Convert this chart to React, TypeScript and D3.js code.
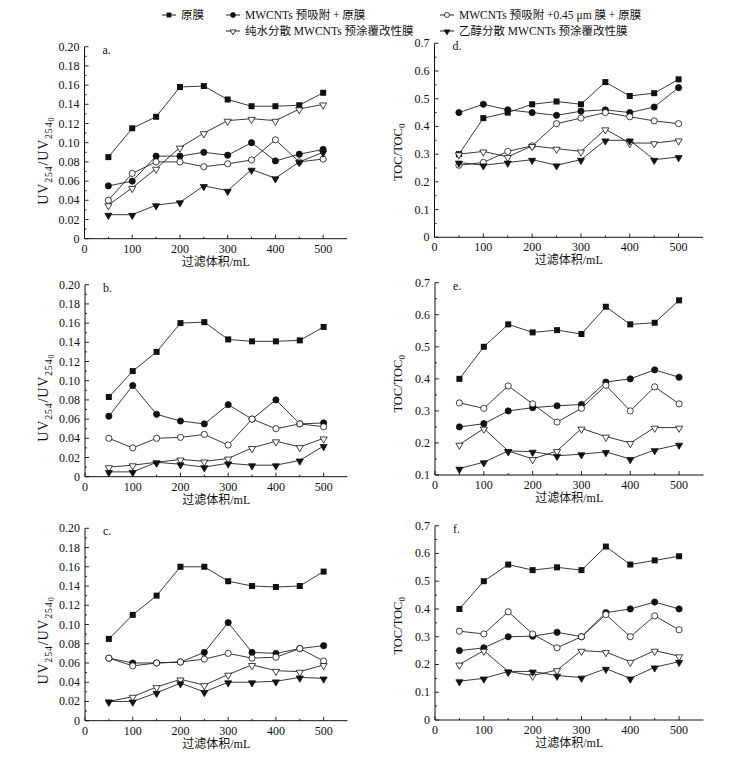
import React from 'react';
import * as d3 from 'd3';

// filtration volume (mL)
const volumes = [50, 100, 150, 200, 250, 300, 350, 400, 450, 500];

const seriesNames = [
  '原膜',
  'MWCNTs 预吸附 + 原膜',
  'MWCNTs 预吸附 +0.45 μm 膜 + 原膜',
  '纯水分散 MWCNTs 预涂覆改性膜',
  '乙醇分散 MWCNTs 预涂覆改性膜',
];
const seriesMarkers = ['square', 'circle', 'circleOpen', 'triOpen', 'tri'];

// UV254/UV254_0, panels a-c; order follows seriesNames
const uvA = [
  [0.085, 0.115, 0.127, 0.158, 0.159, 0.145, 0.138, 0.138, 0.139, 0.152],
  [0.055, 0.06, 0.086, 0.086, 0.09, 0.087, 0.1, 0.081, 0.088, 0.093],
  [0.04, 0.068, 0.08, 0.08, 0.075, 0.078, 0.082, 0.103, 0.08, 0.083],
  [0.035, 0.053, 0.073, 0.095, 0.11, 0.123, 0.125, 0.123, 0.135, 0.14],
  [0.025, 0.025, 0.035, 0.038, 0.055, 0.05, 0.072, 0.063, 0.08, 0.09],
];
const uvB = [
  [0.083, 0.11, 0.13, 0.16, 0.161, 0.143, 0.141, 0.141, 0.142, 0.156],
  [0.063, 0.095, 0.065, 0.058, 0.055, 0.075, 0.06, 0.08, 0.055, 0.056],
  [0.04, 0.03, 0.04, 0.041, 0.044, 0.033, 0.06, 0.05, 0.055, 0.052],
  [0.01, 0.012, 0.015, 0.018, 0.016, 0.019, 0.03, 0.037, 0.031, 0.04],
  [0.005, 0.005, 0.015, 0.013, 0.01, 0.014, 0.012, 0.012, 0.017, 0.032],
];
const uvC = [
  [0.085, 0.11, 0.13, 0.16, 0.16, 0.145, 0.14, 0.139, 0.14, 0.155],
  [0.065, 0.06, 0.06, 0.061, 0.071, 0.102, 0.071, 0.07, 0.075, 0.078],
  [0.065, 0.057, 0.06, 0.061, 0.064, 0.07, 0.065, 0.066, 0.075, 0.062],
  [0.02, 0.025, 0.035, 0.043, 0.037, 0.048, 0.058, 0.052, 0.051, 0.058],
  [0.02, 0.02, 0.029, 0.039, 0.03, 0.04, 0.04, 0.041, 0.045, 0.044],
];

// TOC/TOC0, panels d-f
const tocD = [
  [0.3, 0.43, 0.45, 0.48, 0.49, 0.48, 0.56, 0.51, 0.52, 0.57],
  [0.45, 0.48, 0.46, 0.45, 0.44, 0.455, 0.46, 0.45, 0.47, 0.54],
  [0.26, 0.27, 0.31, 0.33, 0.41, 0.43, 0.45, 0.435, 0.42, 0.41],
  [0.3, 0.31, 0.29, 0.33, 0.32, 0.31, 0.39, 0.34, 0.34, 0.35],
  [0.27, 0.26, 0.27, 0.28, 0.26, 0.28, 0.35, 0.35, 0.28, 0.29],
];
const tocE = [
  [0.4, 0.5, 0.57, 0.545, 0.552, 0.54, 0.625, 0.57, 0.575, 0.645],
  [0.25, 0.26, 0.3, 0.31, 0.316, 0.32, 0.39, 0.4, 0.428, 0.405],
  [0.325, 0.308, 0.378, 0.322, 0.265, 0.308, 0.38, 0.3, 0.375, 0.322],
  [0.195, 0.245, 0.175, 0.15, 0.175, 0.245, 0.22, 0.2, 0.248, 0.248],
  [0.12, 0.14, 0.175, 0.173, 0.16, 0.165, 0.172, 0.15, 0.178, 0.195],
];
const tocF = [
  [0.4, 0.5, 0.56, 0.54, 0.55, 0.54, 0.625, 0.56, 0.575, 0.59],
  [0.25, 0.26, 0.3, 0.302, 0.316, 0.3, 0.387, 0.4, 0.425, 0.4],
  [0.32, 0.31, 0.39, 0.31, 0.26, 0.3, 0.38, 0.3, 0.375, 0.325],
  [0.2, 0.25, 0.175, 0.16, 0.18, 0.25, 0.245, 0.21, 0.25, 0.23],
  [0.14, 0.15, 0.175, 0.175, 0.16, 0.153, 0.185, 0.15, 0.19, 0.21],
];

const xTicks = [0, 100, 200, 300, 400, 500];
const uvTicks = [0, 0.02, 0.04, 0.06, 0.08, 0.1, 0.12, 0.14, 0.16, 0.18, 0.2];
const tocTicks = [0, 0.1, 0.2, 0.3, 0.4, 0.5, 0.6, 0.7];

const W = 743;
const H = 760;
const FONT = '"Liberation Serif", "Times New Roman", "Noto Sans CJK SC", serif';

type Panel = {
  label: string;
  data: number[][];
  kind: 'uv' | 'toc';
  yMin: number;
  yMax: number;
  left: number;
  right: number;
  top: number;
  bottom: number;
  titleDy: number;
};

const panels: Panel[] = [
  { label: 'a.', data: uvA, kind: 'uv', yMin: 0, yMax: 0.2, left: 84.5, right: 347, top: 46.7, bottom: 238.7, titleDy: 18 },
  { label: 'b.', data: uvB, kind: 'uv', yMin: 0, yMax: 0.2, left: 85, right: 347.5, top: 284.7, bottom: 476.7, titleDy: 17 },
  { label: 'c.', data: uvC, kind: 'uv', yMin: 0, yMax: 0.2, left: 85, right: 347.5, top: 528.3, bottom: 720.7, titleDy: 16 },
  { label: 'd.', data: tocD, kind: 'toc', yMin: 0, yMax: 0.7, left: 434.5, right: 703, top: 43.3, bottom: 237.3, titleDy: 12 },
  { label: 'e.', data: tocE, kind: 'toc', yMin: 0.1, yMax: 0.7, left: 435, right: 703.5, top: 282.7, bottom: 475, titleDy: 5 },
  { label: 'f.', data: tocF, kind: 'toc', yMin: 0, yMax: 0.7, left: 435, right: 703.5, top: 525.7, bottom: 720, titleDy: 3 },
];

const Marker: React.FC<{ type: string; x: number; y: number; s?: number }> = ({ type, x, y, s = 1 }) => {
  const stroke = '#111';
  if (type === 'square') {
    return <rect x={x - 3 * s} y={y - 3 * s} width={6 * s} height={6 * s} fill={stroke} />;
  }
  if (type === 'circle' || type === 'circleOpen') {
    return (
      <circle cx={x} cy={y} r={3.1 * s} fill={type === 'circle' ? stroke : '#fff'} stroke={stroke} strokeWidth={0.8} />
    );
  }
  const path = d3.symbol().type(d3.symbolTriangle).size(22 * s * s)() || '';
  return (
    <path
      d={path}
      transform={`translate(${x},${y + 0.7 * s}) rotate(180)`}
      fill={type === 'tri' ? stroke : '#fff'}
      stroke={stroke}
      strokeWidth={0.8}
    />
  );
};

const fmt = (kind: string, v: number) => (v === 0 ? '0' : kind === 'uv' ? v.toFixed(2) : v.toFixed(1));

const PanelView: React.FC<{ p: Panel }> = ({ p }) => {
  const x = d3.scaleLinear().domain([0, 550]).range([p.left, p.right]);
  const y = d3.scaleLinear().domain([p.yMin, p.yMax]).range([p.bottom, p.top]);
  const ticks = (p.kind === 'uv' ? uvTicks : tocTicks).filter((t) => t >= p.yMin - 1e-9);
  const step = p.kind === 'uv' ? 0.01 : 0.05;
  const minorY = d3.range(p.yMin + step, p.yMax, step * 2);
  const minorX = d3.range(50, 550, 100);
  const line = d3
    .line<number>()
    .x((_, i) => x(volumes[i]))
    .y((d) => y(d));
  const midY = (p.top + p.bottom) / 2 + p.titleDy;
  const titleX = p.left - 41;
  return (
    <g>
      {/* axes */}
      <line x1={p.left} x2={p.left} y1={p.top} y2={p.bottom} stroke="#111" strokeWidth={1} />
      <line x1={p.left} x2={p.right} y1={p.bottom} y2={p.bottom} stroke="#111" strokeWidth={1} />
      {ticks.map((t) => (
        <g key={'yt' + t}>
          <line x1={p.left} x2={p.left + 4} y1={y(t)} y2={y(t)} stroke="#111" strokeWidth={0.9} />
          <text x={p.left - 5} y={y(t) + 4} textAnchor="end" fontSize={12}>
            {fmt(p.kind, t)}
          </text>
        </g>
      ))}
      {minorY.map((t) => (
        <line key={'ym' + t} x1={p.left} x2={p.left + 2} y1={y(t)} y2={y(t)} stroke="#111" strokeWidth={0.9} />
      ))}
      {xTicks.map((t) => (
        <g key={'xt' + t}>
          <line x1={x(t)} x2={x(t)} y1={p.bottom} y2={p.bottom - 4} stroke="#111" strokeWidth={0.9} />
          <text x={x(t)} y={p.bottom + 14} textAnchor="middle" fontSize={12}>
            {t}
          </text>
        </g>
      ))}
      {minorX.map((t) => (
        <line key={'xm' + t} x1={x(t)} x2={x(t)} y1={p.bottom} y2={p.bottom - 2} stroke="#111" strokeWidth={0.9} />
      ))}
      <text x={(p.left + p.right) / 2} y={p.bottom + 27} textAnchor="middle" fontSize={12}>
        过滤体积/mL
      </text>
      {p.kind === 'uv' ? (
        <text transform={`translate(${titleX + 4},${midY}) rotate(-90)`} textAnchor="middle" fontSize={14} letterSpacing={0.8}>
          UV<tspan fontSize={10} dy={4}>254</tspan>
          <tspan dy={-4}>/UV</tspan>
          <tspan fontSize={10} dy={4}>254</tspan>
          <tspan fontSize={8} dy={2}>0</tspan>
        </text>
      ) : (
        <text transform={`translate(${titleX + 8},${midY}) rotate(-90)`} textAnchor="middle" fontSize={12.5}>
          TOC/TOC<tspan fontSize={9} dy={3}>0</tspan>
        </text>
      )}
      <text x={p.left + 18} y={p.top + 7} fontSize={12}>
        {p.label}
      </text>
      {/* series */}
      {p.data.map((s, si) => (
        <g key={'s' + si}>
          <path d={line(s) || ''} fill="none" stroke="#222" strokeWidth={0.9} />
          {s.map((v, i) => (
            <Marker key={i} type={seriesMarkers[si]} x={x(volumes[i])} y={y(v)} />
          ))}
        </g>
      ))}
    </g>
  );
};

const legendPos = [
  { x: 169, y: 15 },
  { x: 233, y: 15 },
  { x: 447, y: 15 },
  { x: 233, y: 31 },
  { x: 447, y: 31 },
];

export default function App() {
  return (
    <svg
      width={W}
      height={H}
      viewBox={`0 0 ${W} ${H}`}
      style={{ position: 'absolute', left: 0, top: 0, background: '#fff' }}
      fontFamily={FONT}
      fill="#111"
    >
      <rect width={W} height={H} fill="#fff" />
      {seriesNames.map((name, i) => {
        const { x, y } = legendPos[i];
        return (
          <g key={name}>
            <line x1={x - 7} x2={x + 7} y1={y} y2={y} stroke="#222" strokeWidth={1} />
            <Marker type={seriesMarkers[i]} x={x} y={y} s={0.8} />
            <text x={x + 12} y={y + 4} fontSize={11.5}>
              {name}
            </text>
          </g>
        );
      })}
      {panels.map((p) => (
        <PanelView key={p.label} p={p} />
      ))}
    </svg>
  );
}
